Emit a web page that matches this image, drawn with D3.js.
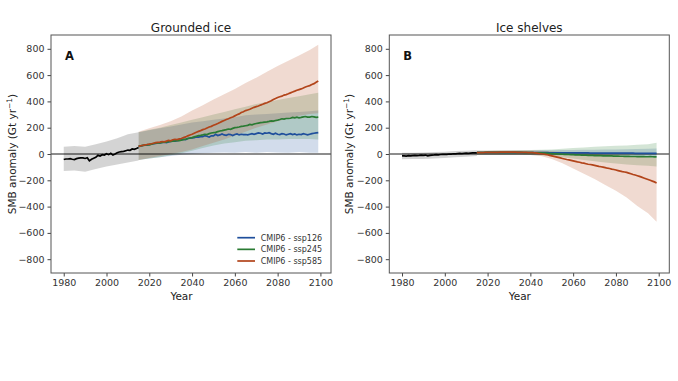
<!DOCTYPE html>
<html><head><meta charset="utf-8">
<script src="https://cdn.jsdelivr.net/npm/d3@7"></script>
<style>
html,body{margin:0;padding:0;background:#fff;}
text{font-family:"DejaVu Sans",sans-serif;}
</style></head>
<body><svg id="c" width="678" height="381"></svg>
<script>
// ---------- data ----------
const panelTitles = ["Grounded ice", "Ice shelves"];
const panelLetters = ["A", "B"];
const xTicks = [1980, 2000, 2020, 2040, 2060, 2080, 2100];
const yTicks = [-800, -600, -400, -200, 0, 200, 400, 600, 800];
const scenarios = ["CMIP6 - ssp126", "CMIP6 - ssp245", "CMIP6 - ssp585"];
const histYears = d3.range(1980, 2016);
const scenYears = d3.range(2015, 2100);
const histBandYears = [1980, 1985, 1990, 1995, 2000, 2005, 2010, 2015];
const bandYears = [2015,2020,2025,2030,2035,2040,2045,2050,2055,2060,2065,2070,2075,2080,2085,2090,2095,2099];

// Panel A: grounded ice
const histA = [-42,-38,-38,-35,-40,-42,-35,-32,-30,-30,-34,-28,-52,-40,-32,-25,-10,-15,-5,-8,2,-5,5,-8,0,10,15,18,20,25,30,28,38,35,42,50];
const histA_lo = [-130,-125,-135,-115,-95,-80,-65,-50];
const histA_hi = [55,60,55,75,95,120,150,165];
const ssp126A = [58,60,65,70,68,72,75,78,80,84, 85,88,90,86,92,95,100,98,102,106, 108,112,110,118,120,122,125,130,128,132, 132,140,135,128,138,138,150,140,145,152, 145,142,150,148,140,148,152,145,150,148, 148,145,150,155,150,155,160,158,152,160, 158,162,155,150,158,150,148,155,152,145, 150,155,148,152,145,150,148,155,150,145, 150,155,158,160,162];
const ssp245A = [58,62,65,68,72,70,75,80,82,85, 85,88,92,90,95,95,98,100,103,102, 105,110,112,118,122,125,130,135,140,142, 145,150,148,155,160,162,165,170,175,178, 182,185,190,188,195,200,202,205,210,212, 215,218,225,222,228,232,235,238,240,243, 245,248,252,250,255,258,262,268,265,270, 270,272,278,275,280,275,278,282,285,280, 280,285,282,278,280];
const ssp585A = [58,63,66,70,72,75,78,82,86,88, 90,95,93,98,104,100,108,112,110,115, 118,125,130,138,145,150,158,165,172,178, 185,190,198,205,210,218,225,232,240,248, 255,262,268,275,282,290,298,305,315,322, 330,335,340,348,355,360,365,372,378,385, 390,398,405,415,422,430,435,440,448,452, 458,465,472,478,485,490,495,502,510,515, 520,528,535,545,555];
const ssp126A_lo = [-45,-35,-25,-15,-5,0,5,10,12,10,15,10,15,12,10,15,10,10];
const ssp126A_hi = [165,180,195,210,225,240,250,260,270,280,295,300,305,310,315,320,325,330];
const ssp245A_lo = [-45,-35,-25,-10,5,25,45,65,80,90,100,105,110,110,115,115,115,110];
const ssp245A_hi = [165,185,200,220,240,260,280,300,320,340,360,380,395,410,425,440,455,465];
const ssp585A_lo = [-45,-30,-15,0,15,35,60,85,110,140,170,200,225,250,270,290,305,310];
const ssp585A_hi = [170,195,220,250,285,330,370,415,455,495,540,580,625,670,710,750,790,830];

// Panel B: ice shelves
const histB = [-15,-14,-16,-13,-14,-12,-10,-12,-11,-9,-10,-8,-14,-10,-8,-7,-5,-6,-4,-3,-2,-3,0,-1,2,1,3,4,3,5,6,5,7,8,8,9];
const histB_lo = [-40,-38,-38,-35,-30,-25,-20,-15];
const histB_hi = [10,10,12,15,18,22,25,28];
const ssp126B = [10,10,11,11,11,12,12,12,12,12, 12,12,12,12,12,12,12,12,12,12, 12,11,11,11,11,11,11,10,10,10, 10,10,10,10,9,9,9,9,9,9, 9,9,8,8,8,8,8,8,8,8, 8,8,8,7,7,7,7,7,7,7, 7,7,7,6,6,6,6,6,6,6, 6,6,6,6,5,5,5,5,5,5, 5,5,5,5,5];
const ssp245B = [10,10,11,11,12,12,12,12,13,13, 13,13,13,13,13,13,13,12,12,12, 12,12,11,11,10,10,10,9,9,8, 8,7,6,5,4,3,2,1,0,-1, -2,-3,-3,-4,-5,-5,-6,-7,-7,-8, -8,-9,-10,-10,-11,-12,-12,-12,-13,-14, -14,-14,-15,-15,-16,-16,-16,-17,-17,-18, -18,-18,-19,-19,-19,-20,-20,-20,-20,-21, -21,-20,-21,-22,-22];
const ssp585B = [10,10,11,11,12,12,12,13,13,13, 13,14,14,14,14,14,14,14,14,13, 13,13,12,12,11,10,10,8,6,4, 2,0,-3,-6,-10,-14,-18,-22,-26,-30, -34,-38,-42,-45,-48,-52,-56,-60,-63,-67, -70,-74,-78,-80,-83,-86,-90,-94,-97,-100, -104,-108,-110,-115,-118,-122,-126,-130,-134,-137, -140,-145,-150,-156,-160,-165,-170,-176,-182,-188, -194,-200,-206,-212,-220];
const ssp126B_lo = [-5,-5,-5,-5,-5,-5,-8,-8,-10,-10,-12,-12,-14,-15,-15,-16,-18,-20];
const ssp126B_hi = [25,25,25,26,26,27,28,28,30,30,32,32,34,35,36,38,40,42];
const ssp245B_lo = [-5,-5,-5,-5,-5,-8,-12,-18,-25,-35,-45,-55,-65,-72,-80,-85,-90,-95];
const ssp245B_hi = [25,25,26,27,28,30,32,35,40,45,50,55,58,62,65,70,75,85];
const ssp585B_lo = [-5,-5,-5,-5,-6,-8,-15,-38,-70,-110,-150,-190,-235,-280,-330,-395,-450,-515];
const ssp585B_hi = [25,25,26,27,27,26,24,20,15,10,5,0,-5,-10,-15,-20,-25,-30];

const colors = ["#1f4f9c", "#2a7b33", "#b2441a"];

// ---------- drawing ----------
const svg = d3.select("#c");
svg.append("rect").attr("width",678).attr("height",381).attr("fill","#fff");

const panels = [
  {x0: 51, hist: histA, hlo: histA_lo, hhi: histA_hi,
   lines: [ssp126A, ssp245A, ssp585A], lo: [ssp126A_lo, ssp245A_lo, ssp585A_lo], hi: [ssp126A_hi, ssp245A_hi, ssp585A_hi], legend: true, labX: 15.5},
  {x0: 389.3, hist: histB, hlo: histB_lo, hhi: histB_hi,
   lines: [ssp126B, ssp245B, ssp585B], lo: [ssp126B_lo, ssp245B_lo, ssp585B_lo], hi: [ssp126B_hi, ssp245B_hi, ssp585B_hi], legend: false, labX: 353}
];
const PW = 280, yTop = 35, yBot = 273;

panels.forEach((p, i) => {
  const x = d3.scaleLinear().domain([1974.05, 2104.95]).range([p.x0, p.x0 + PW]);
  const y = d3.scaleLinear().domain([-905, 905]).range([yBot, yTop]);
  const g = svg.append("g");
  const cid = "clip" + i;
  svg.append("clipPath").attr("id", cid).append("rect")
    .attr("x", p.x0).attr("y", yTop).attr("width", PW).attr("height", yBot - yTop);
  const plot = g.append("g").attr("clip-path", `url(#${cid})`);

  const area = d3.area().x(d => x(d[0])).y0(d => y(d[1])).y1(d => y(d[2]));
  const line = d3.line().x(d => x(d[0])).y(d => y(d[1]));

  plot.append("path").datum(histBandYears.map((yr, k) => [yr, p.hlo[k], p.hhi[k]]))
    .attr("d", area).attr("fill", "#000").attr("fill-opacity", 0.17);
  p.lo.forEach((lo, s) => {
    plot.append("path").datum(bandYears.map((yr, k) => [yr, lo[k], p.hi[s][k]]))
      .attr("d", area).attr("fill", colors[s]).attr("fill-opacity", 0.2);
  });
  plot.append("line").attr("x1", p.x0).attr("x2", p.x0 + PW)
    .attr("y1", y(0)).attr("y2", y(0)).attr("stroke", "#000").attr("stroke-width", 0.9);
  plot.append("path").datum(histYears.map((yr, k) => [yr, p.hist[k]]))
    .attr("d", line).attr("fill", "none").attr("stroke", "#000").attr("stroke-width", 1.7);
  p.lines.forEach((vals, s) => {
    plot.append("path").datum(scenYears.map((yr, k) => [yr, vals[k]]))
      .attr("d", line).attr("fill", "none").attr("stroke", colors[s]).attr("stroke-width", 1.7);
  });

  const xa = g.append("g").attr("transform", `translate(0,${yBot})`)
    .call(d3.axisBottom(x).tickValues(xTicks).tickSize(3.5).tickPadding(3).tickFormat(d3.format("d")));
  const ya = g.append("g").attr("transform", `translate(${p.x0},0)`)
    .call(d3.axisLeft(y).tickValues(yTicks).tickSize(3.5).tickPadding(3).tickFormat(d3.format("d")));
  [xa, ya].forEach(a => {
    a.select(".domain").remove();
    a.selectAll("line").attr("stroke", "#444");
    a.selectAll("text").attr("fill", "#333").style("font-size", "9.5px").style("font-family", "DejaVu Sans");
  });
  g.append("rect").attr("x", p.x0).attr("y", yTop).attr("width", PW).attr("height", yBot - yTop)
    .attr("fill", "none").attr("stroke", "#555").attr("stroke-width", 1);

  g.append("text").attr("x", p.x0 + PW / 2).attr("y", 31.5).attr("text-anchor", "middle")
    .attr("fill", "#222").style("font-size", "12px").text(panelTitles[i]);
  g.append("text").attr("x", p.x0 + 14).attr("y", 60).attr("fill", "#111")
    .style("font-size", "11.5px").style("font-weight", "bold").text(panelLetters[i]);
  g.append("text").attr("x", p.x0 + 130.5).attr("y", 299.5).attr("text-anchor", "middle")
    .attr("fill", "#222").style("font-size", "10.5px").text("Year");
  const yl = g.append("text").attr("transform", `translate(${p.labX},154) rotate(-90)`)
    .attr("text-anchor", "middle").attr("fill", "#222").style("font-size", "10.5px");
  yl.append("tspan").text("SMB anomaly (Gt yr");
  yl.append("tspan").attr("dy", -4).style("font-size", "7.5px").text("\u22121");
  yl.append("tspan").attr("dy", 4).text(")");

  if (p.legend) {
    const lg = g.append("g");
    scenarios.forEach((name, s) => {
      const cy = 237.7 + s * 11.65;
      lg.append("line").attr("x1", 237.3).attr("x2", 255).attr("y1", cy).attr("y2", cy)
        .attr("stroke", colors[s]).attr("stroke-width", 1.7);
      lg.append("text").attr("x", 260.7).attr("y", cy + 3).attr("fill", "#333")
        .style("font-size", "8px").text(name);
    });
  }
});
</script></body></html>
